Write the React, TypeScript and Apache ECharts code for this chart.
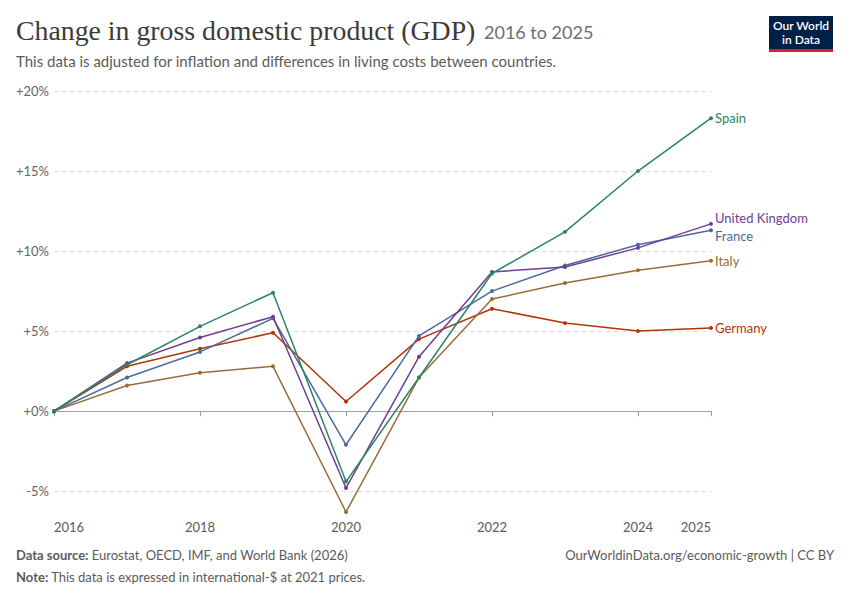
import React, { useEffect, useRef } from "react";
import * as echarts from "echarts";

const years = [2016, 2017, 2018, 2019, 2020, 2021, 2022, 2023, 2024, 2025];
const spain = [0, 2.9, 5.3, 7.4, -4.4, 2.1, 8.6, 11.2, 15.0, 18.3];
const uk = [0, 3.0, 4.6, 5.9, -4.8, 3.4, 8.7, 9.0, 10.2, 11.7];
const france = [0, 2.1, 3.7, 5.8, -2.1, 4.7, 7.5, 9.1, 10.4, 11.3];
const italy = [0, 1.6, 2.4, 2.8, -6.3, 2.1, 7.0, 8.0, 8.8, 9.4];
const germany = [0, 2.8, 3.9, 4.9, 0.6, 4.5, 6.4, 5.5, 5.0, 5.2];

const yTicks = [-5, 0, 5, 10, 15, 20];
const xTicks = [2016, 2018, 2020, 2022, 2024, 2025];

const seriesDefs = [
  { name: "Spain", data: spain, color: "#2c8465", offset: [0, 0] },
  { name: "United Kingdom", data: uk, color: "#6d3e91", offset: [0, -6] },
  { name: "France", data: france, color: "#4c6a9c", offset: [0, 6] },
  { name: "Italy", data: italy, color: "#996d39", offset: [0, 0] },
  { name: "Germany", data: germany, color: "#b13507", offset: [0, 0] },
];

const FONT = "Lato, 'Noto Sans', sans-serif";

export default function App() {
  const ref = useRef<HTMLDivElement>(null);
  useEffect(() => {
    if (!ref.current) return;
    const chart = echarts.init(ref.current, null, { renderer: "svg" });
    const series: any[] = seriesDefs.map((s, i) => ({
      name: s.name,
      type: "line",
      data: s.data.map((v, j) => [years[j], v]),
      color: s.color,
      symbol: "circle",
      symbolSize: 4,
      showSymbol: true,
      lineStyle: { width: 1.5, color: s.color },
      itemStyle: { color: s.color },
      z: 10 - i,
      endLabel: {
        show: true,
        formatter: s.name,
        color: s.color,
        fontFamily: FONT,
        fontSize: 13,
        distance: 4,
        offset: s.offset,
      },
    }));
    series.push({
      type: "line",
      data: [],
      silent: true,
      markLine: {
        silent: true,
        symbol: "none",
        label: { show: false },
        data: yTicks.map((v) => ({
          yAxis: v,
          lineStyle:
            v === 0
              ? { color: "#a0a0a0", type: "solid", width: 1 }
              : { color: "#dddddd", type: [4, 4], width: 1 },
        })),
      },
    });
    chart.setOption({
      animation: false,
      textStyle: { fontFamily: FONT },
      grid: { left: 54, right: 139, top: 91, bottom: 88 },
      xAxis: {
        type: "value",
        min: 2016,
        max: 2025,
        axisLine: { show: false },
        splitLine: { show: false },
        axisTick: {
          show: true,
          length: 5,
          customValues: xTicks,
          lineStyle: { color: "#999" },
        },
        axisLabel: {
          customValues: xTicks,
          color: "#5b5b5b",
          fontSize: 13,
          fontFamily: FONT,
          margin: 8,
          alignMinLabel: "left",
          alignMaxLabel: "right",
          formatter: (v: number) => String(v),
        },
      },
      yAxis: {
        type: "value",
        min: -6.3,
        max: 20,
        axisLine: { show: false },
        axisTick: { show: false },
        splitLine: { show: false },
        axisLabel: {
          customValues: yTicks,
          color: "#666",
          fontSize: 13,
          fontFamily: FONT,
          margin: 5,
          formatter: (v: number) => (v > 0 ? "+" + v + "%" : v === 0 ? "+0%" : v + "%"),
        },
      },
      series,
      graphic: [
        {
          type: "text",
          left: 16,
          top: 16,
          style: {
            text: "Change in gross domestic product (GDP)",
            fontFamily: "'Liberation Serif', 'DejaVu Serif', serif",
            fontSize: 27.8,
            fill: "#3b3b3b",
          },
        },
        {
          type: "text",
          left: 484,
          top: 23,
          style: {
            text: "2016 to 2025",
            fontFamily: FONT,
            fontSize: 18,
            fill: "#6e6e6e",
          },
        },
        {
          type: "text",
          left: 16,
          top: 53,
          style: {
            text: "This data is adjusted for inflation and differences in living costs between countries.",
            fontFamily: FONT,
            fontSize: 15,
            fill: "#5b5b5b",
          },
        },
        { type: "rect", shape: { x: 769, y: 16, width: 64, height: 36 }, style: { fill: "#002147" } },
        { type: "rect", shape: { x: 769, y: 49, width: 64, height: 3 }, style: { fill: "#ce261e" } },
        {
          type: "text",
          x: 801,
          y: 32.5,
          style: {
            text: "Our World\nin Data",
            fontFamily: FONT,
            fontSize: 12,
            lineHeight: 14,
            fontWeight: 600,
            fill: "#fff",
            align: "center",
            verticalAlign: "middle",
          },
        },
        {
          type: "text",
          x: 16,
          y: 555,
          style: {
            text: "{b|Data source:} Eurostat, OECD, IMF, and World Bank (2026)",
            fontFamily: FONT,
            fontSize: 13,
            fill: "#5b5b5b",
            verticalAlign: "middle",
            rich: { b: { fontWeight: 700, fontFamily: FONT, fontSize: 13, fill: "#5b5b5b" } },
          },
        },
        {
          type: "text",
          x: 16,
          y: 577,
          style: {
            text: "{b|Note:} This data is expressed in international-$ at 2021 prices.",
            fontFamily: FONT,
            fontSize: 13,
            fill: "#5b5b5b",
            verticalAlign: "middle",
            rich: { b: { fontWeight: 700, fontFamily: FONT, fontSize: 13, fill: "#5b5b5b" } },
          },
        },
        {
          type: "text",
          x: 834,
          y: 555,
          style: {
            text: "OurWorldinData.org/economic-growth | CC BY",
            fontFamily: FONT,
            fontSize: 13,
            fill: "#5b5b5b",
            align: "right",
            verticalAlign: "middle",
          },
        },
      ],
    });
    return () => chart.dispose();
  }, []);
  return (
    <div
      ref={ref}
      style={{ position: "absolute", left: 0, top: 0, width: 850, height: 600, background: "#fff" }}
    />
  );
}
